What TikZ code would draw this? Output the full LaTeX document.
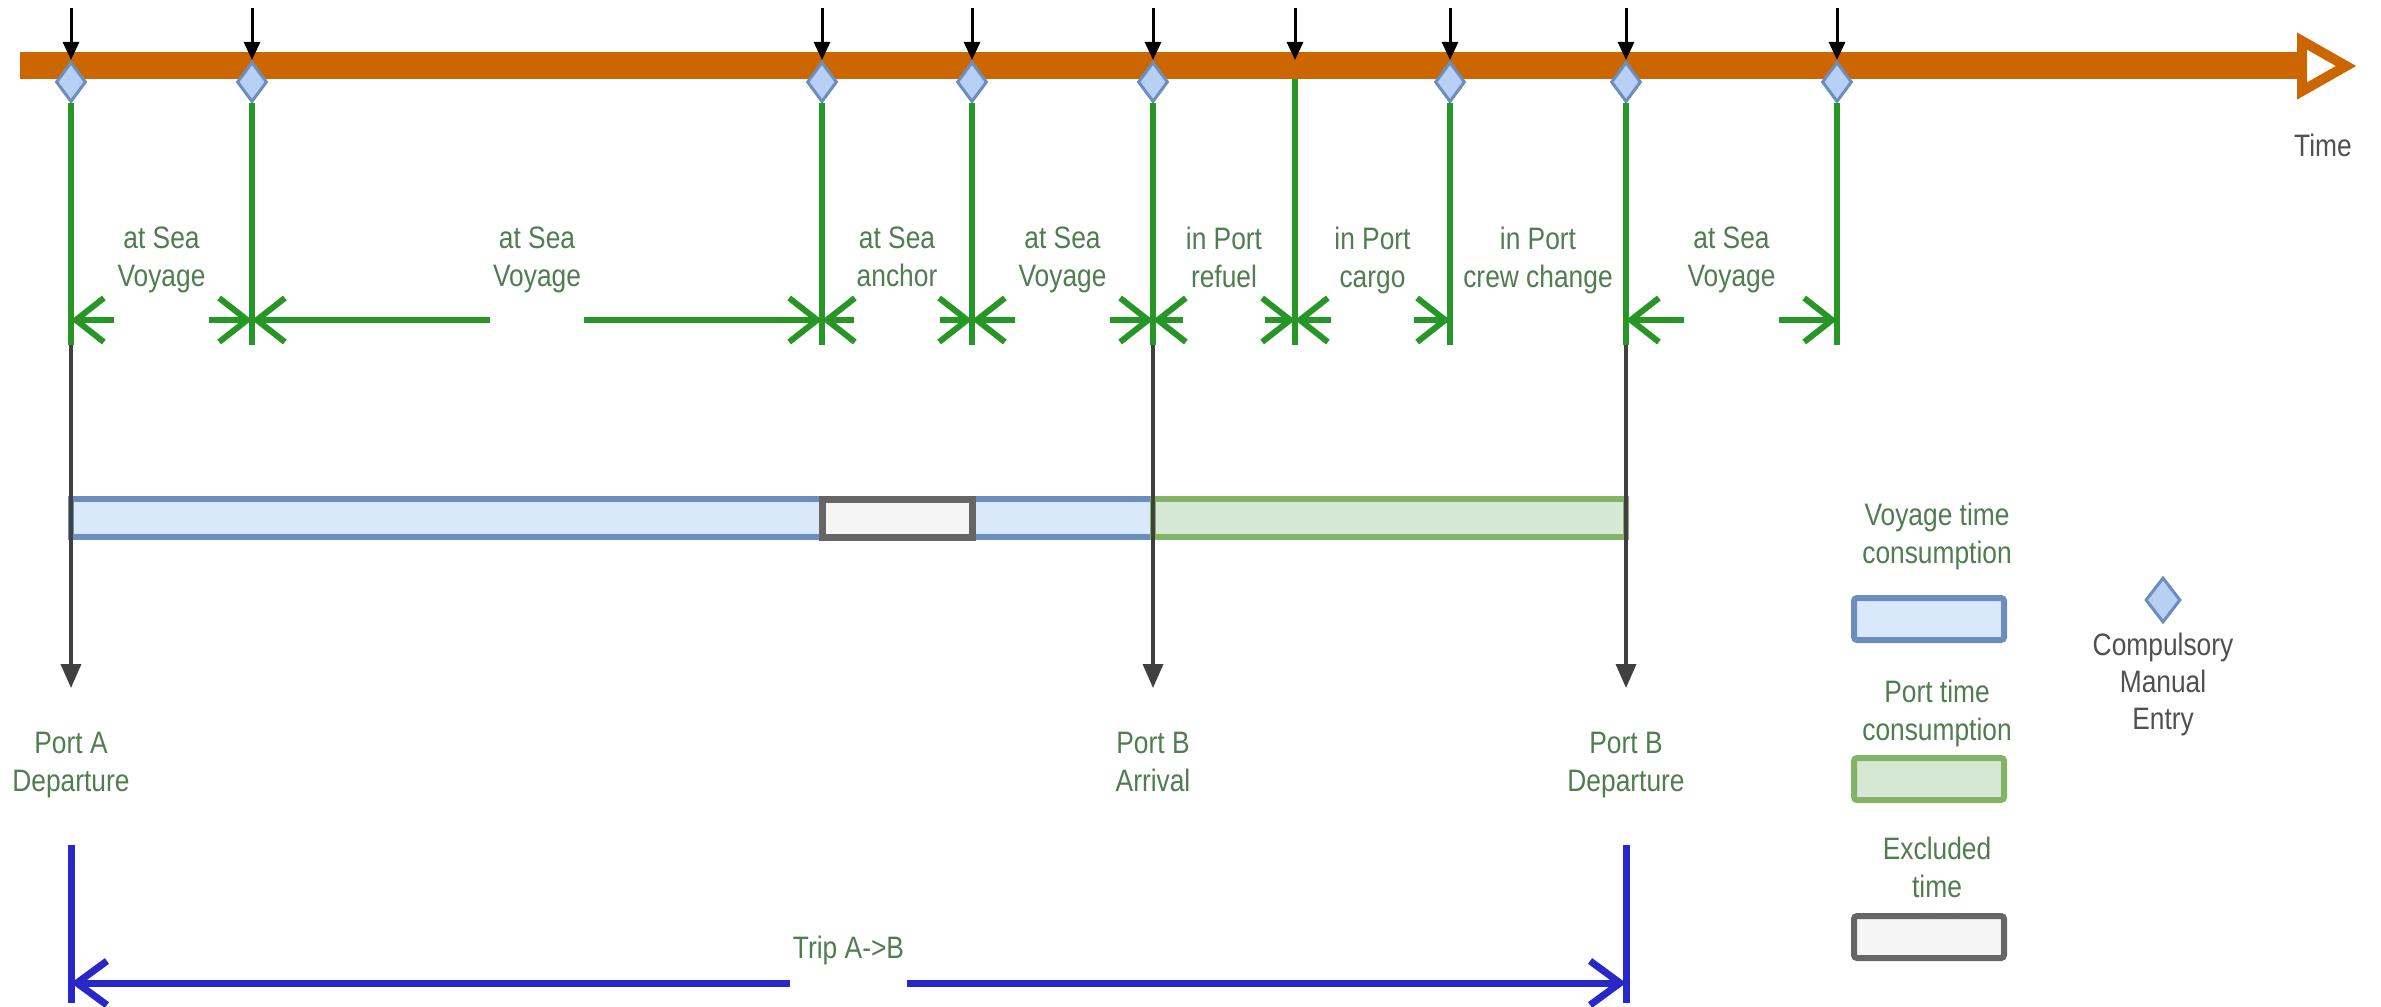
\documentclass[tikz,border=0pt]{standalone}
\usepackage{fontspec}
\setmainfont{Liberation Sans}[FakeStretch=0.85]
\usetikzlibrary{arrows.meta,shapes.geometric}
\definecolor{tlorange}{RGB}{204,102,0}
\definecolor{lgreen}{RGB}{38,150,38}
\definecolor{labgreen}{RGB}{80,125,80}
\definecolor{tripblue}{RGB}{40,40,200}
\definecolor{voyfill}{HTML}{DAE8FC}
\definecolor{voydraw}{HTML}{6C8EBF}
\definecolor{portfill}{HTML}{D5E8D4}
\definecolor{portdraw}{HTML}{82B366}
\definecolor{exfill}{HTML}{F5F5F5}
\definecolor{exdraw}{HTML}{666666}
\definecolor{dfill}{RGB}{185,208,245}
\definecolor{txtgray}{RGB}{80,80,80}
\begin{document}
\begin{tikzpicture}[x=1pt,y=-1pt,
  txt/.style={font=\fontsize{31}{38}\selectfont, align=center, inner sep=0pt, text=labgreen},
  seglab/.style={txt, anchor=north, inner xsep=3pt},
  entrymark/.style={diamond, draw=voydraw, fill=dfill, line width=3pt, minimum width=30pt, minimum height=40pt, inner sep=0pt},
  topmark/.style={draw=black, line width=3pt, -{Triangle[length=18pt,width=16pt]}},
  gline/.style={draw=lgreen, line width=6pt},
  garrow/.style={draw=lgreen, line width=6pt, -{Straight Barb[length=28pt,width=44pt]}},
  bline/.style={draw=tripblue, line width=7pt},
  barrow/.style={draw=tripblue, line width=7pt, -{Straight Barb[length=30pt,width=44pt]}},
  portarrow/.style={draw=black!75, line width=3.5pt, -{Triangle[length=24pt,width=20pt]}},
  tbar/.style={rectangle, line width=6pt, minimum height=38pt, inner sep=0pt},
  legbox/.style={rectangle, line width=6pt, minimum width=150pt, minimum height=42pt, rounded corners=3pt, inner sep=0pt}
]
\useasboundingbox (0,0) rectangle (2381,1006);
\fill[white] (0,0) rectangle (2381,1006);

% vertical positions
\foreach \i/\x in {1/71,2/252,3/822,4/972,5/1153,6/1295,7/1450,8/1626,9/1837}{
  \coordinate (v\i) at (\x,320);
  \coordinate (top\i) at (\x,8);
  \coordinate (tk\i) at (\x,60);
  \coordinate (gb\i) at (\x,345);
}
\coordinate (tl6) at (1295,79);

% time line
\coordinate (t0) at (20,66);
\coordinate (t1) at (2300,66);
\draw[tlorange, line width=27pt] (t0) -- (t1);
\draw[tlorange, line width=10pt, fill=white, line join=miter] (2302,41) -- (2346,66) -- (2302,91) -- cycle;
\node[txt, anchor=north, text=txtgray] (time) at (2323,134) {Time};

% green verticals and markers
\foreach \i/\x in {1/71,2/252,3/822,4/972,5/1153,7/1450,8/1626,9/1837}{
  \node[entrymark] (d\i) at (\x,82) {};
  \draw[gline] (d\i.south) -- (gb\i);
}
\draw[gline] (tl6) -- (gb6);
\foreach \i in {1,...,9}{
  \draw[topmark] (top\i) -- (tk\i);
}

% segment labels and dimension arrows
\node[seglab] (s1) at (161.5,227) {at Sea\\Voyage};
\node[seglab] (s2) at (537,227) {at Sea\\Voyage};
\node[seglab] (s3) at (897,227) {at Sea\\anchor};
\node[seglab] (s4) at (1062.5,227) {at Sea\\Voyage};
\node[seglab] (s5) at (1224,227) {in Port\\refuel};
\node[seglab] (s6) at (1372.5,227) {in Port\\cargo};
\node[seglab] (s7) at (1538,227) {in Port\\crew change};
\node[seglab] (s8) at (1731.5,227) {at Sea\\Voyage};
\draw[garrow] (s1.west |- v1) -- (v1);
\draw[garrow] (s1.east |- v2) -- (v2);
\draw[garrow] (s2.west |- v2) -- (v2);
\draw[garrow] (s2.east |- v3) -- (v3);
\draw[garrow] (s3.west |- v3) -- (v3);
\draw[garrow] (s3.east |- v4) -- (v4);
\draw[garrow] (s4.west |- v4) -- (v4);
\draw[garrow] (s4.east |- v5) -- (v5);
\draw[garrow] (s5.west |- v5) -- (v5);
\draw[garrow] (s5.east |- v6) -- (v6);
\draw[garrow] (s6.west |- v6) -- (v6);
\draw[garrow] (s6.east |- v7) -- (v7);
\draw[garrow] (s8.west |- v8) -- (v8);
\draw[garrow] (s8.east |- v9) -- (v9);

% time consumption bars
\node[tbar, draw=voydraw, fill=voyfill, minimum width=1082pt] (vb) at (612,518) {};
\node[tbar, draw=exdraw, fill=exfill, minimum width=150pt, line width=7pt] (xb) at (897,518) {};
\node[tbar, draw=portdraw, fill=portfill, minimum width=473pt] (pb) at (1389.5,518) {};

% port events
\node[txt, anchor=north] (p1) at (71,732) {Port A\\Departure};
\node[txt, anchor=north] (p5) at (1153,732) {Port B\\Arrival};
\node[txt, anchor=north] (p8) at (1626,732) {Port B\\Departure};
\draw[portarrow] (gb1) -- ([yshift=44pt]p1.north);
\draw[portarrow] (gb5) -- ([yshift=44pt]p5.north);
\draw[portarrow] (gb8) -- ([yshift=44pt]p8.north);

% trip bracket
\coordinate (bt1) at (71,845);
\coordinate (bb1) at (71,1003);
\coordinate (bt8) at (1626,845);
\coordinate (bb8) at (1626,1003);
\coordinate (h1) at (71,983);
\coordinate (h8) at (1626,983);
\draw[bline] (bt1) -- (bb1);
\draw[bline] (bt8) -- (bb8);
\node[seglab] (trip) at (848.5,936) {Trip A->B};
\draw[barrow] (trip.west |- h1) -- (h1);
\draw[barrow] (trip.east |- h8) -- (h8);

% legend
\node[txt, anchor=north] (lvt) at (1937,503) {Voyage time\\consumption};
\node[legbox, draw=voydraw, fill=voyfill] (lv) at (1929,619) {};
\node[txt, anchor=north] (lpt) at (1937,680) {Port time\\consumption};
\node[legbox, draw=portdraw, fill=portfill] (lp) at (1929,779) {};
\node[txt, anchor=north] (lxt) at (1937,837) {Excluded\\time};
\node[legbox, draw=exdraw, fill=exfill] (lx) at (1929,937) {};
\node[entrymark, minimum width=35pt, minimum height=45pt] (ld) at (2163,600) {};
\node[txt, anchor=north, text=txtgray, font=\fontsize{31}{37}\selectfont] (lct) at (2163,633) {Compulsory\\Manual\\Entry};
\end{tikzpicture}
\end{document}
